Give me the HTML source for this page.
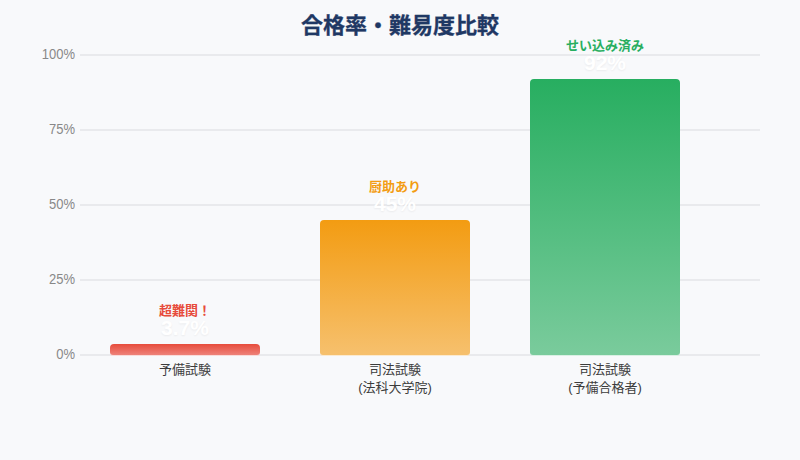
<!DOCTYPE html>
<html lang="ja">
<head>
<meta charset="utf-8">
<title>合格率・難易度比較</title>
<style>
html,body{margin:0;padding:0;}
body{width:800px;height:460px;background:#f8f9fb;overflow:hidden;position:relative;
 font-family:"Liberation Sans","Noto Sans CJK JP",sans-serif;}
.title{position:absolute;left:0;width:800px;top:12px;-webkit-text-stroke:0.3px #1f3864;text-align:center;font-size:22px;font-weight:bold;color:#1f3864;line-height:28px;}
.grid{position:absolute;left:80px;width:680px;height:2px;background:#e9eaed;}
.yl{position:absolute;left:0;width:75px;text-align:right;font-size:13px;color:#888;line-height:16px;transform:scaleY(1.09);transform-origin:0 12.5px;}
.bar{position:absolute;width:150px;border-radius:4px 4px 3px 3px;box-shadow:0 1px 0 #f9fafc;}
.b1{left:110px;top:344px;height:11px;background:linear-gradient(#e74c3c,#ee8279);box-shadow:0 1px 0 #f9dcda;}
.b2{left:320px;top:220px;height:135px;background:linear-gradient(#f39c12,#f6c06d);box-shadow:0 1px 0 #fbead0;}
.b3{left:530px;top:79px;height:276px;background:linear-gradient(#27ae60,#7acb9c);box-shadow:0 1px 0 #daf0e4;}
.tag{position:absolute;width:150px;text-align:center;font-size:13px;font-weight:bold;line-height:16px;}
.val{position:absolute;width:150px;text-align:center;font-size:21px;font-weight:bold;color:#fff;line-height:20px;text-shadow:0 1px 2px rgba(0,0,0,.06);}
.xl{position:absolute;width:210px;text-align:center;font-size:13px;color:#3c3c3c;line-height:18px;top:361px;}
</style>
</head>
<body>
<div class="title">合格率・難易度比較</div>
<div class="grid" style="top:54px"></div>
<div class="grid" style="top:129px"></div>
<div class="grid" style="top:204px"></div>
<div class="grid" style="top:279px"></div>
<div class="grid" style="top:354px"></div>
<div class="yl" style="top:47px">100%</div>
<div class="yl" style="top:122px">75%</div>
<div class="yl" style="top:197px">50%</div>
<div class="yl" style="top:272px">25%</div>
<div class="yl" style="top:347px">0%</div>

<div class="bar b1"></div>
<div class="bar b2"></div>
<div class="bar b3"></div>

<div class="tag" style="left:110px;top:303px;color:#e74c3c">超難関！</div>
<div class="val" style="left:110px;top:318px">3.7%</div>
<div class="tag" style="left:320px;top:179px;color:#f39c12">厨助あり</div>
<div class="val" style="left:320px;top:194px">45%</div>
<div class="tag" style="left:530px;top:38px;color:#27ae60">せい込み済み</div>
<div class="val" style="left:530px;top:53px">92%</div>

<div class="xl" style="left:80px">予備試験</div>
<div class="xl" style="left:290px">司法試験<br>(法科大学院)</div>
<div class="xl" style="left:500px">司法試験<br>(予備合格者)</div>
</body>
</html>
